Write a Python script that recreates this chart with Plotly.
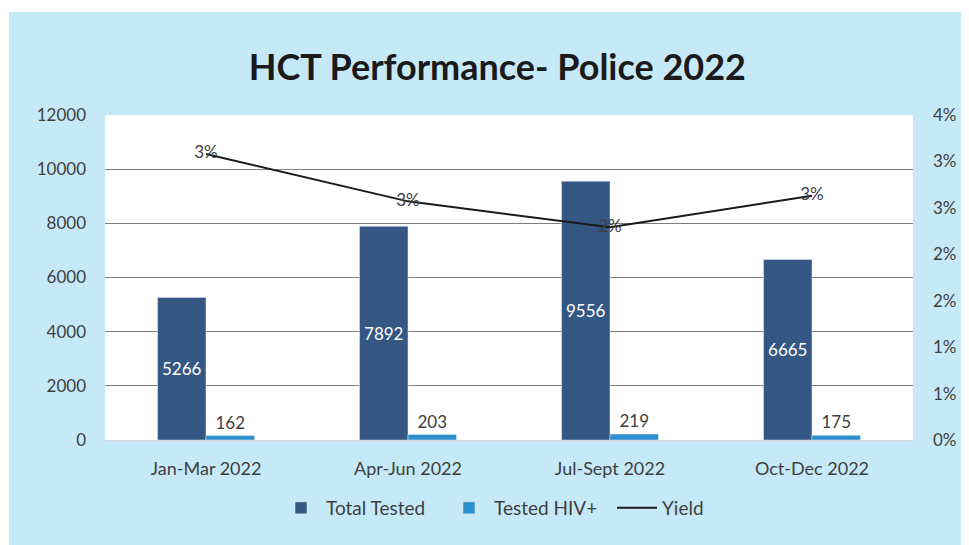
import plotly.graph_objects as go

categories = ["Jan-Mar 2022", "Apr-Jun 2022", "Jul-Sept 2022", "Oct-Dec 2022"]
total_tested = [5266, 7892, 9556, 6665]
tested_hiv_pos = [162, 203, 219, 175]
yield_rate = [0.0308, 0.0257, 0.0229, 0.0263]
left_tickvals = [0, 2000, 4000, 6000, 8000, 10000, 12000]
left_ticktext = ["0", "2000", "4000", "6000", "8000", "10000", "12000"]
right_tickvals = [0, 0.005, 0.01, 0.015, 0.02, 0.025, 0.03, 0.035]
right_ticktext = ["0%", "1%", "1%", "2%", "2%", "3%", "3%", "4%"]

FONT = "Lato"
BG = "#c6e9f8"
DARK = "#345783"
LIGHT = "#2c8fce"
TXT = "#404040"

fig = go.Figure()
fig.add_trace(go.Bar(
    x=categories, y=total_tested, name="Total Tested",
    marker=dict(color=DARK),
    text=[str(v) for v in total_tested], textposition="inside",
    insidetextanchor="middle",
    textfont=dict(color="white", size=17, family=FONT),
))
fig.add_trace(go.Bar(
    x=categories, y=tested_hiv_pos, name="Tested HIV+",
    marker=dict(color=LIGHT),
    text=[str(v) for v in tested_hiv_pos], textposition="outside",
    textfont=dict(color=TXT, size=17, family=FONT),
    cliponaxis=False,
))
fig.add_trace(go.Scatter(
    x=categories, y=yield_rate, name="Yield", yaxis="y2",
    mode="lines+text", line=dict(color="#1a1a1a", width=2),
    texttemplate="%{y:.0%}", textposition="middle center",
    textfont=dict(color=TXT, size=17, family=FONT),
))

W, H = 969, 545
L, R, T, B = 97, 64, 107, 113
pw, ph = W - L - R, H - T - B

def px_x(p):
    return (p - L) / pw

def px_y(p):
    return (H - B - p) / ph

fig.update_layout(
    width=W, height=H,
    margin=dict(l=L, r=R, t=T, b=B),
    paper_bgcolor=BG, plot_bgcolor="white",
    font=dict(family=FONT, color=TXT, size=16),
    barmode="group", bargap=0.52, bargroupgap=0,
    title=dict(text="<b>HCT Performance- Police 2022</b>", x=0.505, xanchor="center",
               y=1 - 59 / H, yanchor="middle", font=dict(size=36, color="#1a1a1a", family=FONT)),
    xaxis=dict(showgrid=False, showline=True, linecolor="#d9d9d9", linewidth=1,
               ticks="", ticklabelstandoff=12, tickfont=dict(size=18, color=TXT)),
    yaxis=dict(range=[0, 12000], tickvals=left_tickvals, ticktext=left_ticktext,
               showgrid=True, gridcolor="#7f7f7f",
               gridwidth=1, zeroline=False, ticklabelstandoff=18,
               tickfont=dict(size=17, color=TXT)),
    yaxis2=dict(overlaying="y", side="right", range=[0, 0.035], tickvals=right_tickvals,
                ticktext=right_ticktext, showgrid=False, zeroline=False,
                ticklabelstandoff=19, tickfont=dict(size=17, color=TXT)),
    legend=dict(orientation="h", x=px_x(520), xanchor="center", y=px_y(500), yanchor="middle",
                font=dict(size=19, color=TXT), bgcolor="rgba(0,0,0,0)", traceorder="normal",
                entrywidth=113, entrywidthmode="pixels", itemwidth=40),
    showlegend=True,
    shapes=[
        dict(type="rect", xref="paper", yref="paper", x0=px_x(0), x1=px_x(1),
             y0=px_y(H), y1=px_y(0), fillcolor="white", line=dict(width=0), layer="below"),
        dict(type="rect", xref="paper", yref="paper", x0=px_x(0), x1=px_x(W),
             y0=px_y(4), y1=px_y(0), fillcolor="white", line=dict(width=0), layer="below"),
    ],
)

fig.write_html("out.html")
